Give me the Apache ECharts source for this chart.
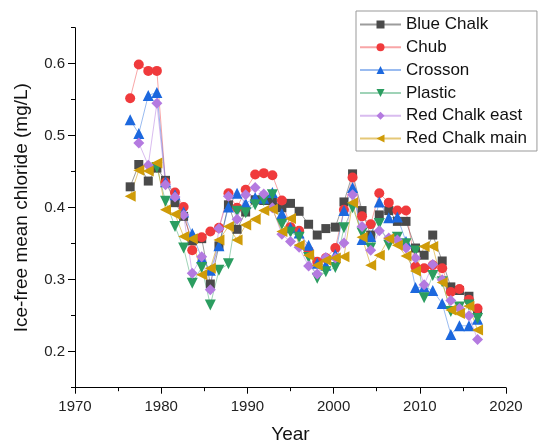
<!DOCTYPE html>
<html>
<head>
<meta charset="utf-8">
<script src="https://cdn.jsdelivr.net/npm/echarts@6/dist/echarts.min.js"></script>
<style>
html,body{margin:0;padding:0;background:#fff;}
#chart{width:539px;height:442px;}
</style>
</head>
<body>
<div id="chart"></div>
<script>
// Plotted time position of each yearly sample
const sampleTimes = [1976.4,1977.4,1978.5,1979.5,1980.5,1981.6,1982.6,1983.6,1984.7,1985.7,
  1986.7,1987.8,1988.8,1989.8,1990.9,1991.9,1992.9,1994.0,1995.0,1996.0,
  1997.1,1998.1,1999.1,2000.2,2001.2,2002.2,2003.3,2004.3,2005.3,2006.4,
  2007.4,2008.4,2009.5,2010.5,2011.5,2012.6,2013.6,2014.6,2015.7,2016.7];

const blueChalk = [0.429,0.460,0.437,0.455,0.438,0.407,0.388,0.354,0.357,0.294,
  0.347,0.404,0.370,0.394,0.411,0.410,0.410,0.400,0.406,0.395,
  0.377,0.362,0.371,0.373,0.408,0.447,0.396,0.362,0.390,0.396,
  0.381,0.381,0.344,0.334,0.362,0.326,0.290,0.285,0.277,0.256];
const chub = [0.552,0.599,0.590,0.590,0.435,0.421,0.401,0.341,0.359,0.367,
  0.372,0.420,0.400,0.425,0.446,0.448,0.445,0.410,0.373,0.368,
  0.340,0.325,0.330,0.344,0.397,0.442,0.388,0.377,0.420,0.407,
  0.396,0.396,0.318,0.316,0.320,0.316,0.283,0.287,0.272,0.260];
const crosson = [0.522,0.503,0.556,0.560,0.436,0.418,0.394,0.364,0.330,0.313,
  0.347,0.401,0.420,0.406,0.414,0.413,0.421,0.392,0.372,0.365,
  0.348,0.323,0.320,0.335,0.396,0.428,0.356,0.360,0.408,0.386,
  0.387,0.353,0.289,0.290,0.285,0.267,0.224,0.236,0.236,0.245];
const plastic = [null,null,null,0.456,0.409,0.374,0.344,0.295,0.317,0.265,
  0.313,0.322,0.395,0.393,0.404,0.410,0.418,0.377,0.366,0.359,
  0.331,0.302,0.311,0.317,0.372,0.400,0.365,0.344,0.378,0.348,
  0.359,0.350,0.340,0.275,0.306,0.297,0.256,0.262,0.265,0.246];
const redChalkEast = [null,0.490,0.459,0.545,0.432,0.415,0.390,0.309,0.332,0.286,
  0.371,0.416,0.384,0.418,0.428,0.419,0.400,0.363,0.353,0.345,
  0.319,0.308,0.331,0.330,0.351,0.418,0.374,0.341,0.368,0.358,
  0.355,0.344,0.330,0.293,0.321,0.300,0.271,0.260,0.250,0.217];
const redChalkMain = [0.416,0.452,0.451,0.462,0.397,0.391,0.360,0.357,0.307,0.316,
  0.355,0.374,0.355,0.376,0.384,0.396,0.398,0.367,0.385,0.348,
  0.334,0.320,0.327,0.330,0.332,0.407,0.359,0.320,0.334,0.357,
  0.348,0.333,0.312,0.346,0.346,0.296,0.258,0.253,0.263,0.230];

const seriesNames = ['Blue Chalk','Chub','Crosson','Plastic','Red Chalk east','Red Chalk main'];
const yTicks = [0.2,0.3,0.4,0.5,0.6];

const styles = [
  {color:'#4a4a4a', line:'rgba(74,74,74,0.55)', symbol:'rect', size:9, rot:0},
  {color:'#f03a3c', line:'rgba(240,58,60,0.45)', symbol:'circle', size:10, rot:0},
  {color:'#1c68de', line:'rgba(28,104,222,0.45)', symbol:'triangle', size:11, rot:0},
  {color:'#2b9d60', line:'rgba(43,157,96,0.45)', symbol:'triangle', size:11, rot:180},
  {color:'#b47ae0', line:'rgba(180,122,224,0.5)', symbol:'diamond', size:11, rot:0},
  {color:'#cf9b08', line:'rgba(207,155,8,0.55)', symbol:'triangle', size:11, rot:90}
];
const values = [blueChalk, chub, crosson, plastic, redChalkEast, redChalkMain];

const series = seriesNames.map((name, i) => ({
  name: name,
  type: 'line',
  data: sampleTimes.map((t, j) => [t, values[i][j]]),
  symbol: styles[i].symbol,
  symbolSize: styles[i].size,
  symbolRotate: styles[i].rot,
  showSymbol: true,
  connectNulls: false,
  itemStyle: {color: styles[i].color, opacity: 1},
  lineStyle: {color: styles[i].line, width: 1},
  emphasis: {disabled: true},
  animation: false
}));

const chart = echarts.init(document.getElementById('chart'), null, {renderer: 'canvas'});
const font = 'Liberation Sans, Arial, Helvetica, sans-serif';
chart.setOption({
  animation: false,
  backgroundColor: '#ffffff',
  grid: {left: 75, right: 33, top: 27.7, bottom: 54.3, outerBoundsMode: 'none', containLabel: false},
  legend: {
    data: seriesNames,
    orient: 'vertical',
    left: 356, top: 11,
    padding: [5, 10, 4, 3],
    itemGap: 5.8,
    itemWidth: 41,
    itemHeight: 10,
    borderColor: '#999999',
    borderWidth: 1,
    backgroundColor: '#ffffff',
    textStyle: {fontFamily: font, fontSize: 17, color: '#111', lineHeight: 17},
    selectedMode: false
  },
  xAxis: [{
    type: 'value', min: 1970, max: 2020, interval: 10,
    name: 'Year', nameLocation: 'middle', nameGap: 38,
    nameTextStyle: {fontFamily: font, fontSize: 19, color: '#111'},
    axisLine: {show: true, onZero: false, lineStyle: {color: '#000', width: 1}},
    axisTick: {show: true, inside: false, length: 6, lineStyle: {color: '#000'}},
    minorTick: {show: true, splitNumber: 2, length: 3.5, lineStyle: {color: '#000'}},
    axisLabel: {fontFamily: font, fontSize: 15, color: '#222', margin: 12, formatter: v => String(v)},
    splitLine: {show: false}
  }],
  yAxis: [{
    type: 'value', min: 0.15, max: 0.65,
    name: 'Ice-free mean chloride (mg/L)', nameLocation: 'middle', nameGap: 44,
    nameTextStyle: {fontFamily: font, fontSize: 19, color: '#111'},
    axisLine: {show: true, onZero: false, lineStyle: {color: '#000', width: 1}},
    axisTick: {show: true, length: 7, customValues: yTicks, lineStyle: {color: '#000'}},
    axisLabel: {fontFamily: font, fontSize: 15, color: '#222', margin: 10, customValues: yTicks,
      formatter: v => v.toFixed(1)},
    splitLine: {show: false}
  }, {
    type: 'value', min: 0.15, max: 0.65, interval: 0.05, position: 'left',
    axisLine: {show: false},
    axisTick: {show: true, length: 4, lineStyle: {color: '#000'}},
    axisLabel: {show: false},
    splitLine: {show: false}
  }],
  series: series
});
</script>
</body>
</html>
